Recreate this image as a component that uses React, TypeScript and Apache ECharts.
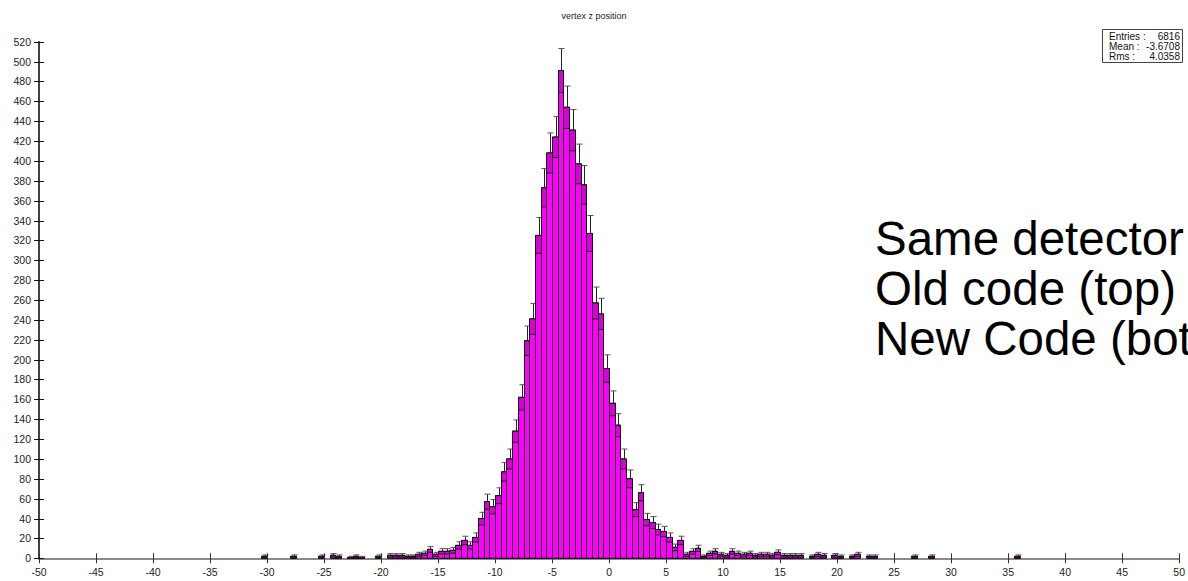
import React, { useEffect, useRef } from "react";
import * as echarts from "echarts";

// Histogram: lower edges of non-empty bins (bin width 0.5) and their counts
const BIN_WIDTH = 0.5;
const binLowEdges = [
  -30.5, -28, -25.5, -24.5, -24, -23, -22.5, -22, -20.5,
  -19.5, -19, -18.5, -18, -17.5, -17, -16.5, -16, -15.5,
  -15, -14.5, -14, -13.5, -13, -12.5, -12, -11.5, -11, -10.5,
  -10, -9.5, -9, -8.5, -8, -7.5, -7, -6.5, -6, -5.5, -5, -4.5,
  -4, -3.5, -3, -2.5, -2, -1.5, -1, -0.5, 0, 0.5, 1, 1.5, 2, 2.5,
  3, 3.5, 4, 4.5, 5, 5.5, 6, 6.5, 7, 7.5, 8, 8.5, 9, 9.5,
  10, 10.5, 11, 11.5, 12, 12.5, 13, 13.5, 14, 14.5,
  15, 15.5, 16, 16.5, 17.5, 18, 18.5, 19.5, 20, 21, 21.5, 22.5, 23,
  26.5, 28, 35.5,
];
const counts = [
  2, 2, 2, 3, 2, 1, 2, 1, 2,
  3, 3, 3, 2, 2, 4, 5, 9, 4,
  7, 7, 8, 13, 18, 13, 21, 40, 57, 52,
  63, 87, 100, 128, 162, 219, 241, 325, 373, 408, 424, 491,
  454, 431, 397, 376, 327, 257, 246, 191, 156, 134, 100, 80, 49, 66,
  39, 36, 29, 27, 21, 11, 18, 4, 7, 10, 2, 5, 7, 4,
  3, 7, 5, 4, 5, 3, 4, 4, 3, 6,
  3, 3, 3, 3, 2, 4, 3, 3, 2, 2, 4, 2, 2,
  2, 2, 2,
];

// Axis ticks
const xTicks = [-50, -45, -40, -35, -30, -25, -20, -15, -10, -5, 0, 5, 10, 15, 20, 25, 30, 35, 40, 45, 50];
const yTicks = [0, 20, 40, 60, 80, 100, 120, 140, 160, 180, 200, 220, 240, 260, 280, 300, 320, 340, 360, 380, 400, 420, 440, 460, 480, 500, 520];

const title = "vertex z position";
const statsLabels = ["Entries :", "Mean :", "Rms :"];
const statsValues = ["6816", "-3.6708", "4.0358"];
const noteLines = ["Same detector", "Old code (top)", "New Code (bottom)"];

export default function App() {
  const ref = useRef<HTMLDivElement>(null);

  useEffect(() => {
    document.body.style.margin = "0";
    const chart = echarts.init(ref.current!, undefined, { renderer: "svg" });
    const data = binLowEdges.map((e, i) => [e, counts[i]]);
    const font = "Liberation Sans, Arial, sans-serif";
    const xMin = xTicks[0];
    const xMax = xTicks[xTicks.length - 1];
    const yMin = yTicks[0];
    const yMax = yTicks[yTicks.length - 1];

    const statsGraphics: any[] = [
      {
        type: "rect",
        shape: { x: 1102.5, y: 29.5, width: 80, height: 33 },
        style: { fill: "#fff", stroke: "#444", lineWidth: 1 },
        z: 10,
      },
    ];
    statsLabels.forEach((l, i) => {
      statsGraphics.push({
        type: "text",
        x: 1109,
        y: 36.5 + i * 9.8,
        style: { text: l, font: `10px ${font}`, fill: "#111", verticalAlign: "middle", align: "left" },
        z: 11,
      });
      statsGraphics.push({
        type: "text",
        x: 1180,
        y: 36.5 + i * 9.8,
        style: { text: statsValues[i], font: `10px ${font}`, fill: "#111", verticalAlign: "middle", align: "right" },
        z: 11,
      });
    });
    const noteGraphics = noteLines.map((t, i) => ({
      type: "text",
      x: 875,
      y: 238 + i * 50,
      style: { text: t, font: `47.5px ${font}`, fill: "#000", verticalAlign: "middle", align: "left" },
      z: 12,
    }));

    const axisLabel = { color: "#222", fontSize: 10.5, fontFamily: font };

    chart.setOption({
      animation: false,
      backgroundColor: "#fff",
      title: {
        text: title,
        left: "center",
        top: 6,
        textStyle: { fontSize: 9, fontWeight: "normal", color: "#222", fontFamily: font },
      },
      grid: { left: 39, right: 8, top: 41.7, bottom: 22.7, containLabel: false },
      xAxis: {
        type: "value",
        min: xMin,
        max: xMax,
        interval: 5,
        axisLine: { show: true, onZero: false, lineStyle: { color: "#8a8a8a", width: 2 } },
        axisTick: { show: false },
        axisLabel: { ...axisLabel, margin: 8 },
        splitLine: { show: false },
      },
      yAxis: {
        type: "value",
        min: yMin,
        max: yMax,
        interval: 20,
        axisLine: { show: true, onZero: false, lineStyle: { color: "#000", width: 1.5 } },
        axisTick: { show: false },
        axisLabel: { ...axisLabel, margin: 8 },
        splitLine: { show: false },
      },
      graphic: [...statsGraphics, ...noteGraphics],
      series: [
        {
          type: "custom",
          name: "histogram",
          data,
          encode: { x: 0, y: 1 },
          clip: false,
          z: 2,
          renderItem: (params: any, api: any) => {
            const x0 = api.value(0);
            const v = api.value(1);
            const err = Math.sqrt(v);
            const pTopLeft = api.coord([x0, v]);
            const pBotRight = api.coord([x0 + BIN_WIDTH, 0]);
            const pErrHi = api.coord([x0 + BIN_WIDTH / 2, v + err]);
            const pErrLo = api.coord([x0, Math.max(0, v - err)]);
            const left = Math.round(pTopLeft[0]) + 0.5;
            const right = Math.round(pBotRight[0]) + 0.5;
            const w = right - left;
            const top = pTopLeft[1];
            const bottom = pBotRight[1];
            const cx = Math.round((left + right) / 2) + 0.5;
            return {
              type: "group",
              children: [
                {
                  type: "rect",
                  shape: { x: left, y: top, width: w, height: bottom - top },
                  style: { fill: "#ff00ff", stroke: "#000", lineWidth: 1 },
                },
                {
                  type: "rect",
                  shape: { x: left, y: top, width: w, height: pErrLo[1] - top },
                  style: { fill: "#d800d8", stroke: "#111", lineWidth: 1 },
                },
                {
                  type: "line",
                  shape: { x1: cx, y1: top, x2: cx, y2: pErrHi[1] },
                  style: { stroke: "#222", lineWidth: 1 },
                },
                {
                  type: "line",
                  shape: { x1: cx - 3, y1: pErrHi[1], x2: cx + 3, y2: pErrHi[1] },
                  style: { stroke: "#555", lineWidth: 1 },
                },
              ],
            };
          },
        },
        {
          type: "custom",
          name: "xTickMarks",
          data: xTicks.map((t) => [t, yMin]),
          encode: { x: 0, y: 1 },
          clip: false,
          silent: true,
          z: 5,
          renderItem: (params: any, api: any) => {
            const p = api.coord([api.value(0), api.value(1)]);
            const x = Math.round(p[0]) + 0.5;
            return {
              type: "line",
              shape: { x1: x, y1: p[1] - 5, x2: x, y2: p[1] + 5 },
              style: { stroke: "#333", lineWidth: 1 },
            };
          },
        },
        {
          type: "custom",
          name: "yTickMarks",
          data: yTicks.map((t) => [xMin, t]),
          encode: { x: 0, y: 1 },
          clip: false,
          silent: true,
          z: 5,
          renderItem: (params: any, api: any) => {
            const p = api.coord([api.value(0), api.value(1)]);
            const y = Math.round(p[1]) + 0.5;
            return {
              type: "line",
              shape: { x1: p[0] - 5, y1: y, x2: p[0] + 5, y2: y },
              style: { stroke: "#111", lineWidth: 1 },
            };
          },
        },
      ],
    });
    return () => chart.dispose();
  }, []);

  return (
    <div
      ref={ref}
      style={{ position: "fixed", left: 0, top: 0, width: 1188, height: 581, overflow: "hidden" }}
    />
  );
}
